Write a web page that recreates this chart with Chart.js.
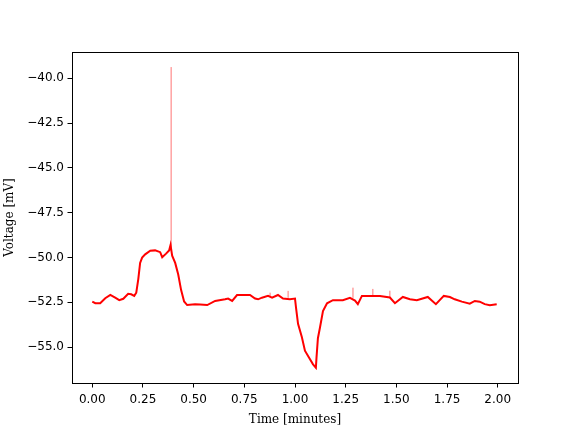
<!DOCTYPE html>
<html>
<head>
<meta charset="utf-8">
<script src="https://cdn.jsdelivr.net/npm/chart.js@4/dist/chart.umd.min.js"></script>
<style>
  html, body { margin: 0; padding: 0; background: #fff; }
  #wrap { width: 576px; height: 432px; }
</style>
</head>
<body>
<div id="wrap"><canvas id="chart" width="576" height="432"></canvas></div>
<script>
// membrane trace, time in minutes
var time = [0.000, 0.015, 0.039, 0.064, 0.089, 0.113, 0.133, 0.153, 0.177, 0.192,
            0.207, 0.217, 0.227, 0.236, 0.246, 0.261, 0.286, 0.310, 0.335, 0.345,
            0.364, 0.379, 0.386, 0.394, 0.409, 0.424, 0.438, 0.453, 0.468, 0.507,
            0.532, 0.567, 0.606, 0.655, 0.670, 0.690, 0.714, 0.778, 0.803, 0.818,
            0.837, 0.867, 0.887, 0.916, 0.941, 0.975, 1.000, 1.005, 1.015, 1.034,
            1.049, 1.074, 1.089, 1.103, 1.106, 1.113, 1.123, 1.138, 1.158, 1.187,
            1.236, 1.271, 1.296, 1.310, 1.330, 1.369, 1.419, 1.468, 1.493, 1.532,
            1.567, 1.601, 1.655, 1.695, 1.734, 1.764, 1.788, 1.823, 1.862, 1.887,
            1.911, 1.936, 1.961, 1.995];
var voltage = [-52.46, -52.55, -52.55, -52.27, -52.08, -52.24, -52.38, -52.30, -52.02, -52.05,
               -52.14, -51.96, -51.20, -50.30, -50.00, -49.82, -49.62, -49.60, -49.70, -49.98,
               -49.78, -49.60, -49.30, -49.90, -50.30, -50.95, -51.80, -52.45, -52.65, -52.60,
               -52.62, -52.65, -52.42, -52.33, -52.29, -52.42, -52.09, -52.09, -52.29, -52.33,
               -52.24, -52.14, -52.24, -52.09, -52.29, -52.33, -52.29, -52.80, -53.70, -54.45,
               -55.20, -55.68, -55.96, -56.15, -55.60, -54.50, -53.92, -52.98, -52.55, -52.38,
               -52.38, -52.25, -52.40, -52.60, -52.14, -52.14, -52.14, -52.23, -52.55, -52.20,
               -52.33, -52.38, -52.20, -52.60, -52.14, -52.20, -52.33, -52.46, -52.57, -52.42,
               -52.46, -52.60, -52.66, -52.60];

// thin single-sample spikes on top of the trace
var spikeTime = [0.389, 0.877, 0.966, 1.286, 1.384, 1.468];
var spikeBase = [-49.40, -52.15, -52.25, -52.25, -52.15, -52.20];
var spikeTop  = [-39.37, -51.96, -51.86, -51.68, -51.75, -51.85];

var xTicks = [0, 0.25, 0.5, 0.75, 1.0, 1.25, 1.5, 1.75, 2.0];
var yTicks = [-55, -52.5, -50, -47.5, -45, -42.5, -40];

var trace = time.map(function (t, i) { return {x: t, y: voltage[i]}; });
var spikes = [];
spikeTime.forEach(function (t, i) {
  spikes.push({x: t, y: spikeBase[i]});
  spikes.push({x: t, y: spikeTop[i]});
  spikes.push({x: t, y: null});
});

function minus(s) { return s.replace('-', '\u2212'); }

var frame = {
  id: 'frame',
  afterDatasetsDraw: function (chart) {
    var a = chart.chartArea, c = chart.ctx;
    c.save();
    c.strokeStyle = '#000';
    c.lineWidth = 1;
    c.strokeRect(Math.round(a.left) + 0.5, Math.round(a.top) + 0.5,
                 Math.round(a.right - a.left), Math.round(a.bottom - a.top));
    c.restore();
  }
};

new Chart(document.getElementById('chart'), {
  type: 'line',
  data: {
    datasets: [
      { data: trace, borderColor: '#ff0000', borderWidth: 2, pointRadius: 0, tension: 0 },
      { data: spikes, borderColor: 'rgba(255,0,0,0.55)', borderWidth: 1, pointRadius: 0, spanGaps: false }
    ]
  },
  options: {
    responsive: false,
    animation: false,
    layout: { padding: { left: 0, top: 52, right: 58, bottom: 0 } },
    plugins: { legend: { display: false }, tooltip: { enabled: false } },
    scales: {
      x: {
        type: 'linear', min: -0.1, max: 2.1,
        afterBuildTicks: function (s) { s.ticks = xTicks.map(function (v) { return {value: v}; }); },
        afterFit: function (s) { s.height = 49; },
        grid: { drawOnChartArea: false, tickLength: 4.5, color: '#000' },
        border: { display: false },
        ticks: { color: '#000', padding: 5, maxRotation: 0, autoSkip: false,
                 font: { family: 'DejaVu Sans', size: 12 },
                 callback: function (v) { return v.toFixed(2); } },
        title: { display: true, text: 'Time [minutes]', color: '#000', padding: { top: 2, bottom: 5 },
                 font: { family: 'DejaVu Serif', size: 12 } }
      },
      y: {
        min: -57.0, max: -38.53,
        afterBuildTicks: function (s) { s.ticks = yTicks.map(function (v) { return {value: v}; }); },
        afterFit: function (s) { s.width = 72; },
        grid: { drawOnChartArea: false, tickLength: 4.5, color: '#000' },
        border: { display: false },
        ticks: { color: '#000', padding: 3.5, autoSkip: false,
                 font: { family: 'DejaVu Sans', size: 12 },
                 callback: function (v) { return minus(v.toFixed(1)); } },
        title: { display: true, text: 'Voltage [mV]', color: '#000', padding: { top: 3, bottom: 0 },
                 font: { family: 'DejaVu Serif', size: 12 } }
      }
    }
  },
  plugins: [frame]
});
</script>
</body>
</html>
